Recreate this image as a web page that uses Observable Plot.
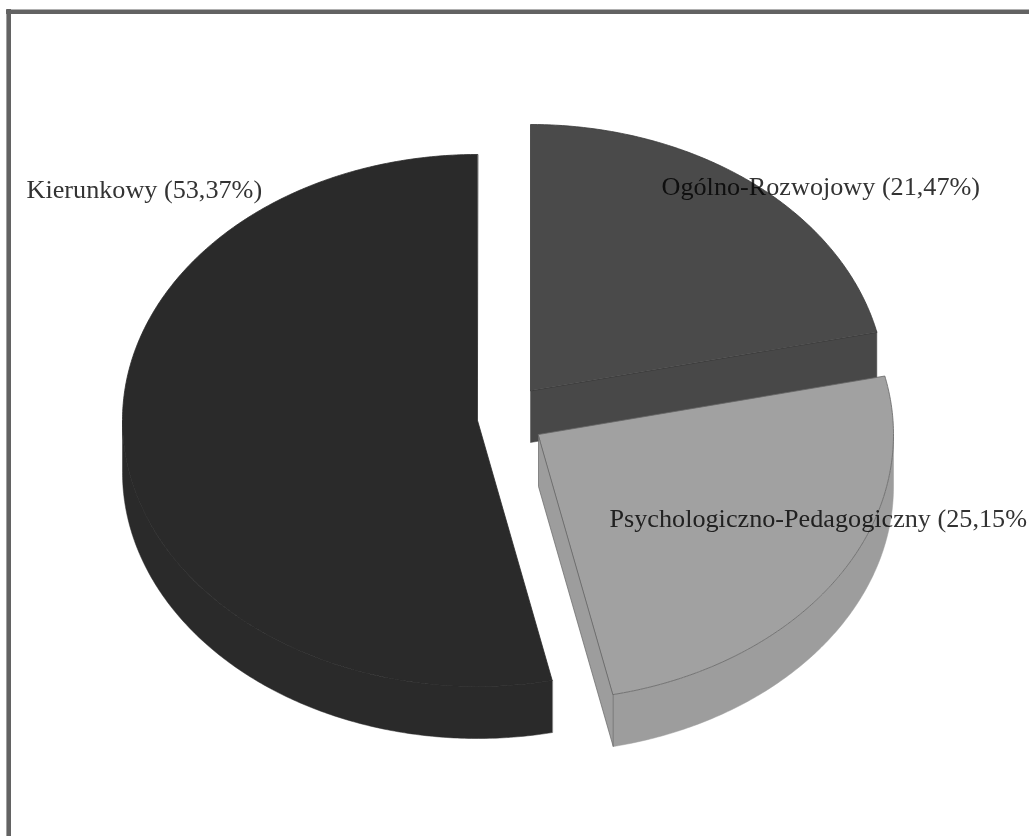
<!DOCTYPE html>
<html>
<head>
<meta charset="utf-8">
<script src="https://cdn.jsdelivr.net/npm/d3@7"></script>
<script src="https://cdn.jsdelivr.net/npm/@observablehq/plot@0.6"></script>
<style>
html,body{margin:0;padding:0;background:#fff;overflow:hidden}
svg{display:block}
</style>
</head>
<body>
<div id="chart"></div>
<script>
// Data (clockwise from 12 o'clock)
const categories = ["Ogólno-Rozwojowy", "Psychologiczno-Pedagogiczny", "Kierunkowy"];
const shares = [21.47, 25.15, 53.37];
// Label tails as the picture shows them: the middle one loses its bracket at the edge
const shareLabels = ["(21,47%)", "(25,15%", "(53,37%)"];

// Presentation
const topFill = ["#4a4a4a", "#a1a1a1", "#2a2a2a"];
const wallFill = ["#484848", "#9d9d9d", "#2a2a2a"];
const edge = ["#3a3a3a", "#666666", "#2a2a2a"];
const explode = [[530, 390], [538, 434], [477, 420]];
const labelAt = [[661, 186], [609, 518], [26, 189]];
const rx = 355, ry = 266, depth = 52;

const total = d3.sum(shares);
const starts = d3.cumsum([0, ...shares]);
const angle = v => (v / total) * 2 * Math.PI;

function arc(i, dy = 0, from = 0, to = 2 * Math.PI) {
  const a0 = Math.max(from, angle(starts[i])), a1 = Math.min(to, angle(starts[i + 1]));
  if (a1 <= a0) return [];
  const n = Math.max(2, Math.ceil((a1 - a0) / 0.01));
  const [cx, cy] = explode[i];
  return d3.range(n + 1).map(k => {
    const a = a0 + (a1 - a0) * k / n;
    return [cx + rx * Math.sin(a), cy + dy - ry * Math.cos(a)];
  });
}
const poly = pts => pts.map(([x, y]) => ({x, y}));
const shape = (pts, options) =>
  Plot.line(poly(pts), {x: "x", y: "y", curve: "linear-closed", ...options});

const marks = [];
// draw order: largest slice first, front slice last
[2, 0, 1].forEach(i => {
  const [cx, cy] = explode[i];
  const top = arc(i);
  const fill = wallFill[i];
  // outer wall: only the near half of the rim faces the viewer
  const rim = arc(i, 0, Math.PI / 2, 3 * Math.PI / 2);
  const rimLow = arc(i, depth, Math.PI / 2, 3 * Math.PI / 2);
  if (rim.length) marks.push(shape([...rim, ...rimLow.slice().reverse()], {fill, stroke: fill, strokeWidth: 0.5}));
  // cut wall visible from the viewer
  const e = top[top.length - 1];
  if (i === 0) {
    marks.push(shape([[cx, cy], [cx, cy + depth], [e[0], e[1] + depth], e], {fill, stroke: fill, strokeWidth: 0.5}));
  }
  if (i === 1) {
    marks.push(shape([[cx, cy], [cx, cy + depth], [e[0], e[1] + depth], e], {fill, stroke: edge[i], strokeWidth: 0.7}));
  }
  // top face
  marks.push(shape([[cx, cy], ...top], {fill: topFill[i], stroke: edge[i], strokeWidth: 0.8}));
});

const labels = categories.map((c, i) => ({
  text: `${c} ${shareLabels[i]}`, x: labelAt[i][0], y: labelAt[i][1]
}));

const chart = Plot.plot({
  width: 1029,
  height: 836,
  margin: 0,
  x: {type: "linear", domain: [0, 1029], range: [0, 1029], axis: null},
  y: {type: "linear", domain: [0, 836], range: [0, 836], axis: null},
  style: {background: "#fff"},
  marks: [
    Plot.ruleX([8.2], {y1: 9, y2: 836, stroke: "#636363", strokeWidth: 4.6}),
    Plot.ruleY([11.2], {x1: 6, x2: 1029, stroke: "#636363", strokeWidth: 4.6}),
    ...marks,
    Plot.text(labels, {
      x: "x", y: "y", text: "text", textAnchor: "start",
      fontFamily: "Liberation Serif", fontSize: 26.2, fill: "#333",
      mixBlendMode: "multiply", lineAnchor: "middle"
    })
  ]
});
document.getElementById("chart").append(chart);
</script>
</body>
</html>
